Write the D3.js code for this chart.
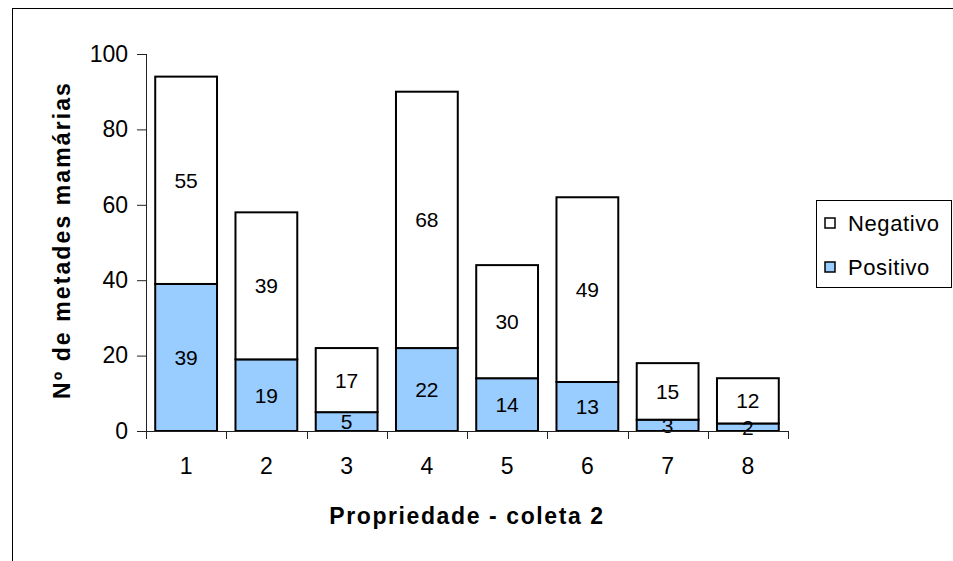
<!DOCTYPE html>
<html>
<head>
<meta charset="utf-8">
<script src="https://cdn.jsdelivr.net/npm/d3@7"></script>
<style>
  html, body { margin: 0; padding: 0; background: #fff; }
  svg { display: block; font-family: "Liberation Sans", Arial, sans-serif; }
</style>
</head>
<body>
<svg id="chart" width="953" height="561"></svg>
<script>
// Propriedades (coleta 2) e contagem de metades mamárias
const categories = ["1", "2", "3", "4", "5", "6", "7", "8"];
const positivo = [39, 19, 5, 22, 14, 13, 3, 2];
const negativo = [55, 39, 17, 68, 30, 49, 15, 12];
const yTicks = [0, 20, 40, 60, 80, 100];
const seriesNames = ["Positivo", "Negativo"];
const seriesColors = { Positivo: "#99ccff", Negativo: "#ffffff" };

const svg = d3.select("#chart");
const W = 953, H = 561;
const FONT = "Liberation Sans, Arial, sans-serif";

// outer frame
svg.append("rect")
  .attr("x", 12.5).attr("y", 8.5)
  .attr("width", W).attr("height", H)
  .attr("fill", "#fff").attr("stroke", "#000").attr("stroke-width", 1);

const plot = { left: 146, right: 788, top: 54, bottom: 431 };

const x = d3.scaleBand()
  .domain(categories)
  .range([plot.left, plot.right])
  .paddingInner(0.23)
  .paddingOuter(0.115);

const y = d3.scaleLinear().domain([0, 100]).range([plot.bottom, plot.top]);

const rows = categories.map((c, i) => ({ cat: c, Positivo: positivo[i], Negativo: negativo[i] }));
const stacked = d3.stack().keys(seriesNames)(rows);

// bars
const g = svg.append("g");
stacked.forEach(layer => {
  g.append("g").selectAll("rect")
    .data(layer)
    .join("rect")
    .attr("x", d => x(d.data.cat))
    .attr("y", d => y(d[1]))
    .attr("width", x.bandwidth())
    .attr("height", d => y(d[0]) - y(d[1]))
    .attr("fill", seriesColors[layer.key])
    .attr("stroke", "#000")
    .attr("stroke-width", 2);
});

// value labels
stacked.forEach(layer => {
  g.append("g").selectAll("text")
    .data(layer)
    .join("text")
    .attr("x", d => x(d.data.cat) + x.bandwidth() / 2)
    .attr("y", d => (y(d[0]) + y(d[1])) / 2)
    .attr("dy", "0.36em")
    .attr("text-anchor", "middle")
    .attr("font-size", 21)
    .attr("fill", "#000")
    .text(d => d.data[layer.key]);
});

// y axis
const yAxis = d3.axisLeft(y).tickValues(yTicks).tickSize(9).tickPadding(9);
const ya = svg.append("g").attr("transform", `translate(${plot.left},0)`).call(yAxis);
ya.select(".domain").attr("stroke", "#222").attr("d", `M0.5,${plot.top}V${plot.bottom}`);
ya.selectAll(".tick line").attr("stroke", "#222");
ya.selectAll(".tick text").attr("font-size", 23).attr("fill", "#000")
  .attr("font-family", FONT);

// x axis with ticks at category boundaries
const xa = svg.append("g").attr("transform", `translate(0,${plot.bottom})`);
const bounds = d3.range(categories.length + 1).map(i => plot.left + i * x.step());
xa.append("path")
  .attr("d", `M${plot.left - 8},0.5H${plot.right}`)
  .attr("stroke", "#222").attr("fill", "none");
xa.selectAll("line.bt").data(bounds).join("line")
  .attr("class", "bt")
  .attr("x1", d => Math.round(d) + 0.5).attr("x2", d => Math.round(d) + 0.5)
  .attr("y1", 0).attr("y2", 8)
  .attr("stroke", "#222");
xa.selectAll("text").data(categories).join("text")
  .attr("x", d => x(d) + x.bandwidth() / 2)
  .attr("y", 43)
  .attr("text-anchor", "middle")
  .attr("font-size", 23)
  .text(d => d);

// axis titles
svg.append("text")
  .attr("x", (plot.left + plot.right) / 2)
  .attr("y", 524)
  .attr("text-anchor", "middle")
  .attr("font-size", 23)
  .attr("font-weight", "bold")
  .attr("letter-spacing", 1.6)
  .text("Propriedade - coleta 2");

svg.append("text")
  .attr("transform", "translate(70,240) rotate(-90)")
  .attr("text-anchor", "middle")
  .attr("font-size", 23)
  .attr("font-weight", "bold")
  .attr("letter-spacing", 2.1)
  .text("Nº de metades mamárias");

// legend
const lg = svg.append("g").attr("transform", "translate(816,200)");
lg.append("rect")
  .attr("x", 0.5).attr("y", 0.5).attr("width", 135).attr("height", 87)
  .attr("fill", "#fff").attr("stroke", "#000");
const legendItems = ["Negativo", "Positivo"];
legendItems.forEach((k, i) => {
  const cy = 23 + i * 44;
  lg.append("rect")
    .attr("x", 9).attr("y", cy - 5).attr("width", 10).attr("height", 10)
    .attr("fill", seriesColors[k]).attr("stroke", "#000").attr("stroke-width", 1.5);
  lg.append("text")
    .attr("x", 32).attr("y", cy).attr("dy", "0.36em")
    .attr("font-size", 22)
    .attr("letter-spacing", 0.6)
    .text(k);
});
</script>
</body>
</html>
